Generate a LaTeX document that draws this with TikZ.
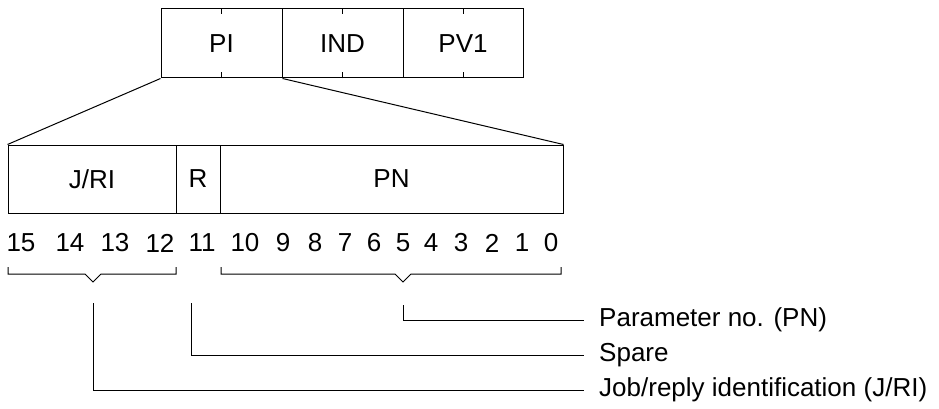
\documentclass[tikz,border=0pt]{standalone}
\usepackage{fontspec}
\setmainfont{Liberation Sans}
\begin{document}
\begin{tikzpicture}[x=1pt,y=-1pt,
  ln/.style={line width=1pt, draw=black},
  cell/.style={ln, draw, inner sep=0pt, font=\fontsize{26}{30}\selectfont},
  bit/.style={inner sep=0pt, font=\fontsize{26}{30}\selectfont},
  lab/.style={inner sep=0pt, anchor=west, font=\fontsize{26}{30}\selectfont}]
\useasboundingbox (0,0) rectangle (939,409);
% top word
\node[cell, minimum width=121pt, minimum height=69pt] (pi) at (221.5,43.5) {PI};
\node[cell, minimum width=121pt, minimum height=69pt] (ind) at (342.5,43.5) {IND};
\node[cell, minimum width=120pt, minimum height=69pt] (pv) at (463,43.5) {PV1};
\draw[line width=1.6pt] (ind.north east) -- (ind.south east);
\foreach \c in {pi,ind,pv}{
  \draw[ln] (\c.north) -- ++(0,6);
  \draw[ln] (\c.south) -- ++(0,-6);
}
% lower word
\node[cell, minimum width=168pt, minimum height=68pt] (jri) at (92,179) {J/RI};
\node[cell, minimum width=44pt, minimum height=68pt] (r) at (198,179) {R};
\node[cell, minimum width=343pt, minimum height=68pt] (pn) at (391.5,179) {PN};
% fan
\draw[ln] (pi.south west) -- (jri.north west);
\draw[ln] (pi.south east) -- (pn.north east);
% bit numbers
\foreach \n/\x in {15/21,14/70,13/115,12/160,11/202,10/245,9/283,8/315,7/345,6/374,5/403,4/431,3/461,2/492,1/522,0/551}{
  \node[bit] (b\n) at (\x,243) {\n};
}
% brackets
\draw[ln] (8,267) -- (8,274) -- (85,274) -- (93,282) -- (101,274) -- (176,274) -- (176,267);
\draw[ln] (221,267) -- (221,274) -- (395,274) -- (403,282) -- (411,274) -- (561,274) -- (561,267);
% leaders
\coordinate (vp) at (403,305);
\coordinate (vs) at (191,303);
\coordinate (vj) at (93,303);
\node[lab] (tp) at (599,320) {Parameter no. (PN)};
\node[lab] (ts) at (599,355) {Spare};
\node[lab] (tj) at (599,390) {Job/reply identification (J/RI)};
\draw[ln, shorten >=15pt] (vp) |- (tp.west);
\draw[ln, shorten >=15pt] (vs) |- (ts.west);
\draw[ln, shorten >=15pt] (vj) |- (tj.west);
\end{tikzpicture}
\end{document}
